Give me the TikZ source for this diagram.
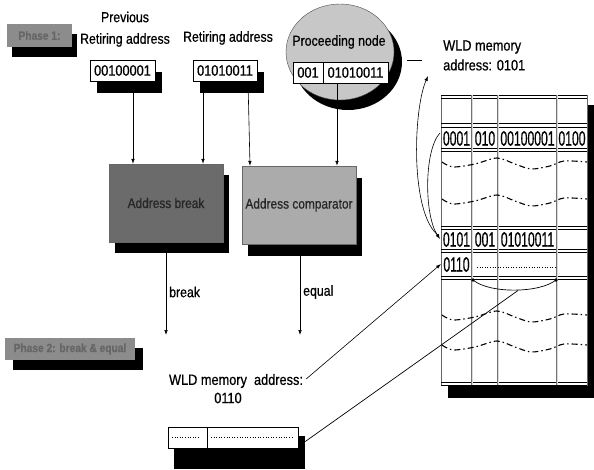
\documentclass[tikz,border=0pt]{standalone}
\usepackage{fontspec}
\setmainfont[FakeStretch=0.85,FakeBold=0.6]{Liberation Sans}
\newfontfamily\tabfont[FakeStretch=0.58,FakeBold=0.5]{Liberation Sans}
\usetikzlibrary{shadows,arrows.meta,calc,shapes.geometric}
\tikzset{
  lbl/.style={inner sep=0pt, font=\fontsize{14.5}{16}\selectfont},
  sh/.style 2 args={general shadow={fill=black, shadow xshift=#1pt, shadow yshift=-#2pt}},
  addrbox/.style={draw=black, line width=0.6pt, fill=white, inner sep=0pt,
    minimum height=21pt, font=\fontsize{15}{16}\selectfont},
  unitbox/.style={draw=black!60, line width=0.4pt, inner sep=0pt,
    minimum width=114pt, minimum height=78pt, font=\fontsize{14}{16}\selectfont},
  phasebox/.style={fill=black!45, inner sep=0pt, text=black!60,
    font=\bfseries\fontsize{12}{14}\selectfont},
  arr/.style={line width=0.6pt, -{Latex[length=5pt,width=3.6pt]}},
  tabtxt/.style={inner sep=0pt, font=\tabfont\fontsize{21}{21}\selectfont},
  rowline/.style={line width=0.5pt, black},
  colline/.style={draw=black!55, line width=0.45pt, double=black!15, double distance=0.9pt},
  wave/.style={line width=1.1pt, dash pattern=on 6pt off 3pt on 1.5pt off 3pt},
}
\begin{document}
\begin{tikzpicture}[x=1pt,y=-1pt]
\useasboundingbox (0,0) rectangle (594,470);

% Phase labels
\node[phasebox, sh={5}{10}, minimum width=65pt, minimum height=23pt] (ph1) at (39.5,35.5) {Phase 1:};
\node[phasebox, sh={8}{10}, minimum width=130pt, minimum height=22pt] (ph2) at (70,349) {Phase 2: break \& equal};

% input labels and boxes
\node[lbl] (prevA) at (125,17) {Previous};
\node[lbl] (prevB) at (125,40) {Retiring address};
\node[addrbox, sh={7}{12}, minimum width=65pt] (prev) at (122.5,70.5) {00100001};
\node[lbl] (retA) at (228,38) {Retiring address};
\node[addrbox, sh={7}{12}, minimum width=64pt] (ret) at (225,70.5) {01010011};

% proceeding node
\node[ellipse, draw=black!70, fill=black!22, minimum width=108pt, minimum height=96pt,
  sh={8}{10}] (ell) at (340,52) {};
\node[lbl] (proct) at (339,42) {Proceeding node};
\node[addrbox, minimum width=30pt] (procA) at (308,72.5) {001};
\node[addrbox, minimum width=65pt] (procB) at (355.5,72.5) {01010011};

% processing units
\node[unitbox, fill=black!58, text=black!85, sh={6}{11}] (abreak) at (166,203) {Address break};
\node[unitbox, fill=black!33, text=black!85, sh={6}{12}] (acomp) at (299,205) {Address comparator};

% arrows into units
\draw[arr] ([xshift=10.5pt]prev.south) -- ([xshift=-33pt]abreak.north);
\draw[arr] ([xshift=-22pt]ret.south) -- ([xshift=37pt]abreak.north);
\draw[arr] ([xshift=23pt]ret.south) -- ([xshift=-49pt]acomp.north);
\draw[arr] ([xshift=-18.5pt]procB.south) -- ([xshift=38pt]acomp.north);

% outputs
\coordinate (brk) at (166,335);
\coordinate (eql) at (300,335);
\draw[arr] ([yshift=-11pt]abreak.south) -- (brk);
\draw[arr] ([xshift=1pt,yshift=-12pt]acomp.south) -- (eql);
\node[lbl, anchor=west] (brkt) at (169,292) {break};
\node[lbl, anchor=west] (eqlt) at (303,292) {equal};

% WLD memory label (top)
\node[lbl, anchor=west, font=\fontsize{15}{16}\selectfont] (wldA) at (443,47) {WLD memory};
\node[lbl, anchor=west, font=\fontsize{15}{16}\selectfont] (wldB) at (443,65) {address: 0101};

% table
\fill[black] (587,105) rectangle (594,398);
\fill[black] (448,385) rectangle (594,398);
\fill[white] (441,95) rectangle (587,385);
\draw[black!60, line width=0.5pt] (441,95) rectangle (587,385);
\foreach \y in {95,98,123,127,148,151,226,229,249,252,276,279,382,385}
  \draw[rowline] (441,\y) -- (587,\y);
\foreach \x in {472,498,557}
  \draw[colline] (\x,95) -- (\x,385);
% waves
\foreach \d in {0,37,153,183}
  \draw[wave] plot[smooth] coordinates {(442,162+\d) (453,167+\d) (475,164+\d) (497,158+\d) (515,164+\d) (531,169+\d) (550,166+\d) (564,161+\d) (587,162+\d)};
% table texts
\node[tabtxt] (t1a) at (456.5,138.5) {0001};
\node[tabtxt] (t1b) at (485,138.5) {010};
\node[tabtxt] (t1c) at (527.5,138.5) {00100001};
\node[tabtxt] (t1d) at (572,138.5) {0100};
\node[tabtxt] (t2a) at (456.5,239.5) {0101};
\node[tabtxt] (t2b) at (485,239.5) {001};
\node[tabtxt] (t2c) at (527.5,239.5) {01010011};
\node[tabtxt] (t3a) at (456.5,264.5) {0110};
\draw[line width=0.9pt, dash pattern=on 1pt off 1.6pt] (477,267) -- (557,267);
% curve under 0110 row
\coordinate (cl) at (473,280);
\coordinate (cr) at (556,280);
\coordinate (cm) at (518,290.5);
\fill (cl) circle (1.8);
\fill (cr) circle (1.8);
\draw[line width=0.7pt] (cl) .. controls (490,294) and (540,293) .. (cr);

% left curves at row 0101
\coordinate (r0001) at (440,133);
\coordinate (r0101) at (440,239);
\coordinate (r0101b) at (439,236);
\coordinate (r0110) at (441,264);
\coordinate (cb) at (428,76);
\coordinate (eh) at (422,60);
\draw[line width=0.6pt] ([xshift=13pt,yshift=-8pt]ell.east) -- (eh);
\draw[arr] (r0001) .. controls (424,150) and (424,215) .. (r0101);
\draw[arr] (r0101b) .. controls (410,215) and (413,110) .. (cb);

% bottom label and box
\node[lbl, font=\fontsize{15}{16}\selectfont] (wldC) at (236,381) {WLD memory\ \ address:};
\node[lbl, font=\fontsize{15}{16}\selectfont] (wldD) at (228,398) {0110};
\fill[black] (174,436) rectangle (305,469);
\node[addrbox, minimum width=39pt] (bA) at (187.5,437.5) {};
\node[addrbox, minimum width=91pt] (bB) at (252.5,437.5) {};
\draw[line width=0.9pt, dash pattern=on 1pt off 1.6pt] (172,437.5) -- (199,437.5);
\draw[line width=0.9pt, dash pattern=on 1pt off 1.6pt] (211,437.5) -- (294,437.5);

% connectors to table
\draw[arr] ([xshift=3pt,yshift=2pt]wldC.east) -- (r0110);
\draw[line width=0.7pt] ([xshift=7pt,yshift=-4pt]bB.east) -- (cm);
\end{tikzpicture}
\end{document}
